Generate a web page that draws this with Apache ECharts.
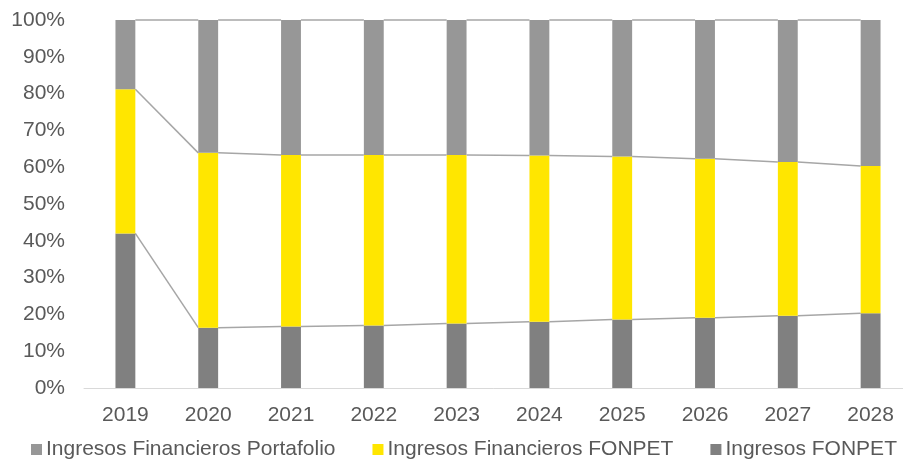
<!DOCTYPE html>
<html>
<head>
<meta charset="utf-8">
<script src="https://cdn.jsdelivr.net/npm/echarts@6/dist/echarts.min.js"></script>
<style>
html,body{margin:0;padding:0;background:#fff;}
#chart{width:903px;height:459px;}
</style>
</head>
<body>
<div id="chart"></div>
<script>
const categories = ['2019','2020','2021','2022','2023','2024','2025','2026','2027','2028'];
const ingresosFonpet = [42.0, 16.4, 16.7, 17.0, 17.5, 18.0, 18.6, 19.1, 19.6, 20.3];
const financierosFonpet = [39.2, 47.5, 46.6, 46.3, 45.8, 45.2, 44.3, 43.2, 41.8, 40.0];
const financierosPortafolio = [18.8, 36.1, 36.7, 36.7, 36.7, 36.8, 37.1, 37.7, 38.6, 39.7];
const yTicks = [0, 10, 20, 30, 40, 50, 60, 70, 80, 90, 100];

const names = ['Ingresos Financieros Portafolio', 'Ingresos Financieros FONPET', 'Ingresos FONPET'];
const colors = { portafolio: '#979797', finFonpet: '#FFE600', fonpet: '#808080' };
const FONT = '"Liberation Sans", Arial, sans-serif';
const BAR_FRAC = 0.24;

// cumulative boundaries for series lines
const lineData = [];
for (let i = 0; i < categories.length - 1; i++) {
  const a1 = ingresosFonpet[i], b1 = a1 + financierosFonpet[i], c1 = b1 + financierosPortafolio[i];
  const a2 = ingresosFonpet[i+1], b2 = a2 + financierosFonpet[i+1], c2 = b2 + financierosPortafolio[i+1];
  lineData.push([i, a1, b1, c1, a2, b2, c2]);
}

const chart = echarts.init(document.getElementById('chart'));
chart.setOption({
  animation: false,
  backgroundColor: '#ffffff',
  textStyle: { fontFamily: FONT },
  grid: { left: 84, width: 828, top: 20, height: 368, containLabel: false, outerBoundsMode: 'none' },
  legend: {
    data: names,
    left: 26, top: 434,
    itemWidth: 11, itemHeight: 11, itemGap: 37,
    icon: 'rect',
    textStyle: { fontSize: 21, color: '#595959', fontFamily: FONT, padding: [0,0,0,-1] }
  },
  xAxis: {
    type: 'category',
    data: categories,
    axisLine: { lineStyle: { color: '#D9D9D9', width: 1 } },
    axisTick: { show: false },
    axisLabel: { fontSize: 21, color: '#595959', margin: 17, fontFamily: FONT }
  },
  yAxis: {
    type: 'value',
    min: yTicks[0], max: yTicks[yTicks.length-1], interval: 10,
    splitLine: { show: false },
    axisLine: { show: false },
    axisTick: { show: false },
    axisLabel: { fontSize: 21, color: '#595959', margin: 19, formatter: '{value}%', fontFamily: FONT }
  },
  series: [
    {
      type: 'custom',
      z: 1,
      data: lineData,
      encode: { x: 0, y: [1,2,3] },
      silent: true,
      renderItem: function (params, api) {
        const i = api.value(0);
        const band = api.size([1, 0])[0];
        const half = band * BAR_FRAC / 2;
        const children = [];
        for (let k = 0; k < 3; k++) {
          const p1 = api.coord([i, api.value(1 + k)]);
          const p2 = api.coord([i + 1, api.value(4 + k)]);
          children.push({
            type: 'line',
            shape: { x1: p1[0] + half, y1: p1[1], x2: p2[0] - half, y2: p2[1] },
            style: { stroke: '#A6A6A6', lineWidth: 1.5 }
          });
        }
        return { type: 'group', children: children };
      }
    },
    {
      name: names[2], type: 'bar', stack: 'total', barWidth: (BAR_FRAC*100) + '%', z: 2,
      itemStyle: { color: colors.fonpet }, data: ingresosFonpet
    },
    {
      name: names[1], type: 'bar', stack: 'total', barWidth: (BAR_FRAC*100) + '%', z: 2,
      itemStyle: { color: colors.finFonpet }, data: financierosFonpet
    },
    {
      name: names[0], type: 'bar', stack: 'total', barWidth: (BAR_FRAC*100) + '%', z: 2,
      itemStyle: { color: colors.portafolio }, data: financierosPortafolio
    }
  ]
});
</script>
</body>
</html>
